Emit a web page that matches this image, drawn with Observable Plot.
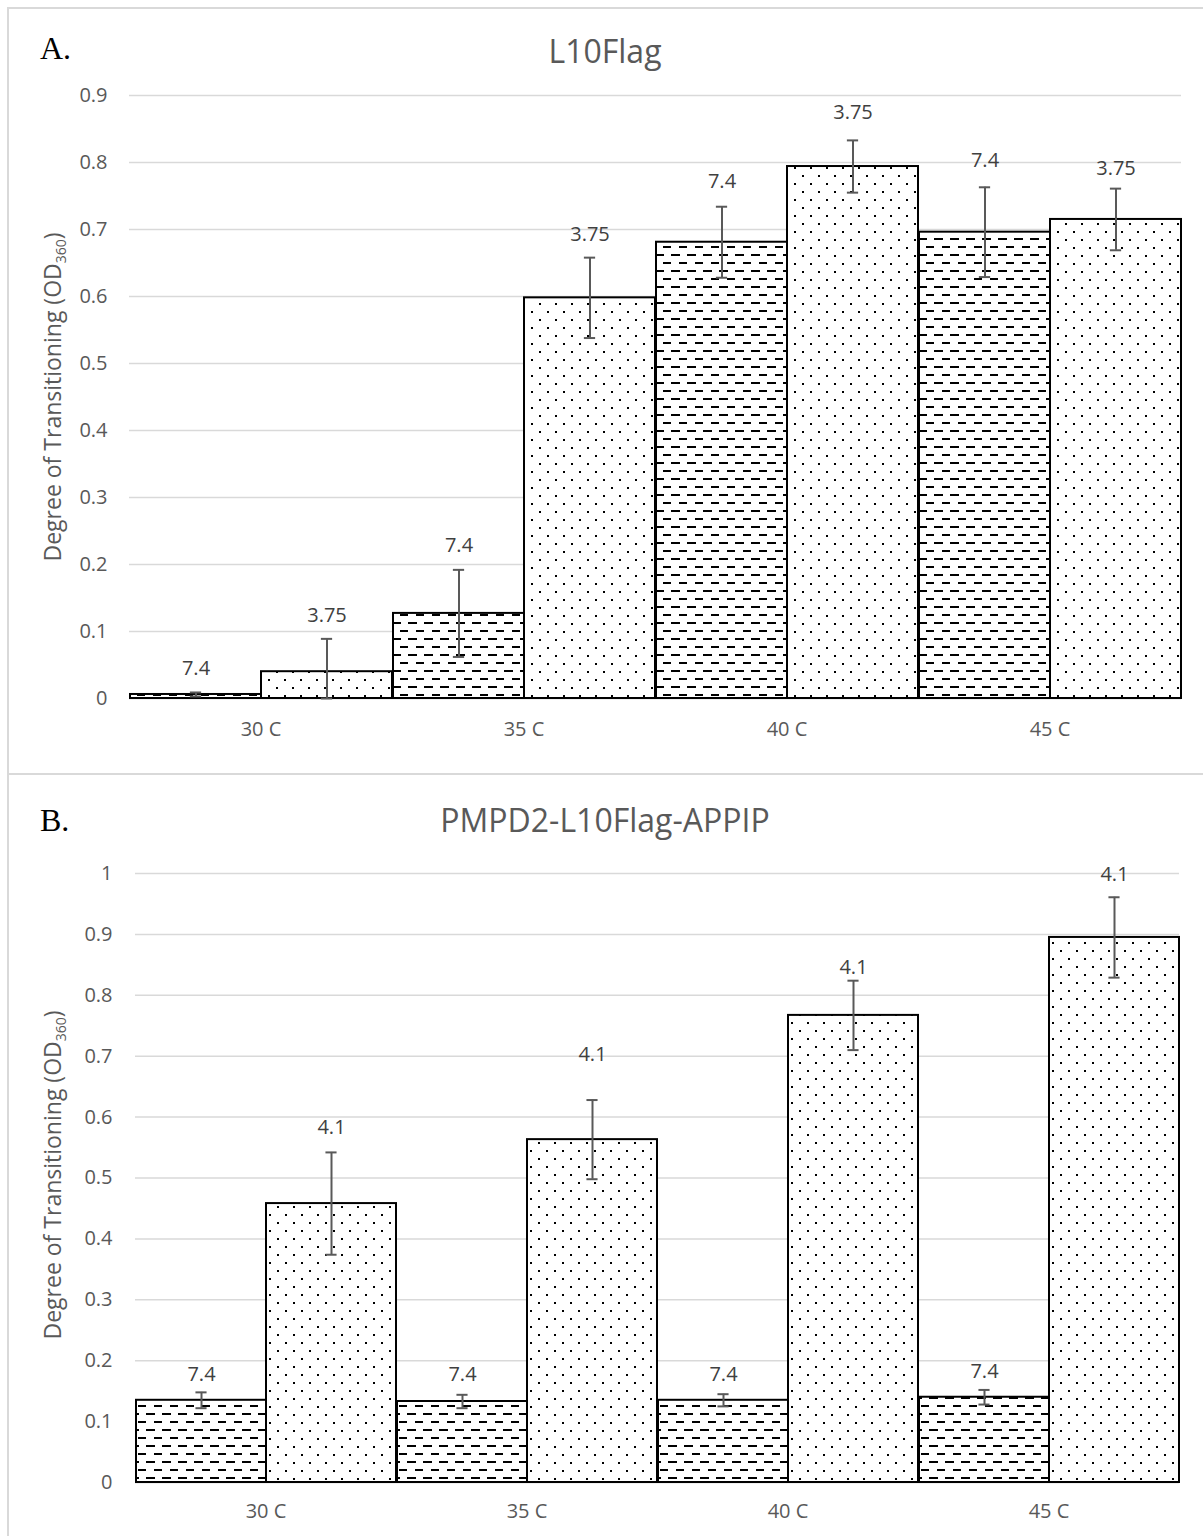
<!DOCTYPE html>
<html><head><meta charset="utf-8">
<script src="https://cdn.jsdelivr.net/npm/d3@7"></script>
<script src="https://cdn.jsdelivr.net/npm/@observablehq/plot@0.6"></script>
<style>
body{margin:0;background:#fff;}
#page{position:relative;width:1203px;height:1536px;overflow:hidden;font-family:"Open Sans",sans-serif;background:#fff;}
.frame{position:absolute;border-left:2px solid #d9d9d9;border-top:2px solid #d9d9d9;box-sizing:border-box;}
.title{position:absolute;left:7px;width:1196px;text-align:center;font-size:32px;line-height:32px;color:#595959;white-space:nowrap;}
.letter{position:absolute;left:40px;font-family:"Liberation Serif",serif;font-size:32px;line-height:32px;color:#000;}
.ylab{position:absolute;font-size:23px;line-height:26px;color:#595959;white-space:nowrap;transform:translate(-50%,-50%) rotate(-90deg);}
.ylab sub{font-size:14px;line-height:0;vertical-align:-5px;}
.plot{position:absolute;left:0;}
</style></head>
<body>
<div id="page">
  <svg width="0" height="0" style="position:absolute">
    <defs>
      <pattern id="dashPat" patternUnits="userSpaceOnUse" width="16" height="16">
        <rect width="16" height="16" fill="#fff"/>
        <rect x="0" y="2" width="9" height="2" fill="#000"/>
        <rect x="8" y="10" width="9" height="2" fill="#000"/>
      </pattern>
      <pattern id="dotPat" patternUnits="userSpaceOnUse" width="16" height="16">
        <rect width="16" height="16" fill="#fff"/>
        <rect x="3" y="3" width="2" height="2" fill="#000"/>
        <rect x="11" y="11" width="2" height="2" fill="#000"/>
      </pattern>
    </defs>
  </svg>
  <div class="frame" style="left:7px;top:7px;width:1200px;height:768px;"></div>
  <div class="frame" style="left:7px;top:773px;width:1200px;height:770px;"></div>
  <div class="letter" style="top:32px;">A.</div>
  <div class="title" style="top:35px;">L10Flag</div>
  <div class="letter" style="top:804px;">B.</div>
  <div class="title" style="top:804px;">PMPD2-L10Flag-APPIP</div>
  <div class="ylab" style="left:52px;top:397px;">Degree of Transitioning (OD<sub>360</sub>)</div>
  <div class="ylab" style="left:52px;top:1175px;">Degree of Transitioning (OD<sub>360</sub>)</div>
  <div id="plotA" class="plot" style="top:60px;"></div>
  <div id="plotB" class="plot" style="top:835px;"></div>
</div>
<script>
// ---- data ----
const categories = ["30 C", "35 C", "40 C", "45 C"];

// Panel A: L10Flag
const seriesA = ["7.4", "3.75"];
const valuesA_74  = [0.006, 0.127, 0.681, 0.696];
const errorsA_74  = [0.003, 0.065, 0.053, 0.067];
const labelAtA_74 = [0.045, 0.228, 0.772, 0.803];
const valuesA_375  = [0.040, 0.598, 0.794, 0.715];
const errorsA_375  = [0.049, 0.060, 0.039, 0.046];
const labelAtA_375 = [0.124, 0.693, 0.875, 0.791];
const ticksA = [0, 0.1, 0.2, 0.3, 0.4, 0.5, 0.6, 0.7, 0.8, 0.9];

// Panel B: PMPD2-L10Flag-APPIP
const seriesB = ["7.4", "4.1"];
const valuesB_74  = [0.135, 0.133, 0.135, 0.140];
const errorsB_74  = [0.013, 0.011, 0.010, 0.012];
const labelAtB_74 = [0.177, 0.177, 0.177, 0.182];
const valuesB_41  = [0.458, 0.563, 0.767, 0.895];
const errorsB_41  = [0.084, 0.065, 0.057, 0.066];
const labelAtB_41 = [0.583, 0.703, 0.846, 0.998];
const ticksB = [0, 0.1, 0.2, 0.3, 0.4, 0.5, 0.6, 0.7, 0.8, 0.9, 1];

function buildRows(names, v1, e1, l1, v2, e2, l2) {
  const rows = [];
  categories.forEach((c, i) => {
    rows.push({cat: c, s: "a", series: names[0], value: v1[i], lo: Math.max(0, v1[i] - e1[i]), hi: v1[i] + e1[i], lab: l1[i]});
    rows.push({cat: c, s: "b", series: names[1], value: v2[i], lo: Math.max(0, v2[i] - e2[i]), hi: v2[i] + e2[i], lab: l2[i]});
  });
  return rows;
}

function panel(rows, names, ticks, yMax, m) {
  const bw = (1203 - m.left - m.right) / 8;
  const capInset = (bw - 12) / 2;
  return Plot.plot({
    width: 1203, height: m.height,
    marginLeft: m.left, marginRight: m.right, marginTop: m.top, marginBottom: m.bottom,
    style: {fontFamily: "Open Sans", fontSize: "20px", color: "#595959", background: "transparent", overflow: "visible"},
    fx: {domain: categories, padding: 0, label: null},
    x: {type: "band", domain: ["a", "b"], padding: 0, axis: null},
    y: {domain: [0, yMax], axis: null},
    color: {type: "ordinal", domain: names, range: ["url(#dashPat)", "url(#dotPat)"]},
    marks: [
      Plot.gridY(ticks, {stroke: "#d9d9d9", strokeOpacity: 1, strokeWidth: 1.5}),
      Plot.ruleY([0], {stroke: "#d9d9d9", strokeWidth: 1.5}),
      Plot.axisY(ticks, {tickSize: 0, tickPadding: m.tickPad, fontSize: 20, fill: "#595959", label: null,
        tickFormat: d => String(+d.toFixed(1))}),
      Plot.barY(rows, {fx: "cat", x: "s", y: "value", fill: "series", stroke: "#000", strokeWidth: 2}),
      Plot.ruleX(rows, {fx: "cat", x: "s", y1: "lo", y2: "hi", stroke: "#595959", strokeWidth: 2}),
      Plot.tickY(rows, {fx: "cat", x: "s", y: "lo", stroke: "#595959", strokeWidth: 2, insetLeft: capInset, insetRight: capInset}),
      Plot.tickY(rows, {fx: "cat", x: "s", y: "hi", stroke: "#595959", strokeWidth: 2, insetLeft: capInset, insetRight: capInset}),
      Plot.text(rows, {fx: "cat", x: "s", y: "lab", text: "series", fill: "#404040", fontSize: 20}),
      Plot.axisFx({anchor: "bottom", tickSize: 0, tickPadding: m.xPad, fontSize: 20, fill: "#595959", label: null})
    ]
  });
}

const rowsA = buildRows(seriesA, valuesA_74, errorsA_74, labelAtA_74, valuesA_375, errorsA_375, labelAtA_375);
const rowsB = buildRows(seriesB, valuesB_74, errorsB_74, labelAtB_74, valuesB_41, errorsB_41, labelAtB_41);

document.getElementById("plotA").append(
  panel(rowsA, seriesA, ticksA, 0.9, {height: 690, left: 128, right: 21, top: 35, bottom: 52, tickPad: 22, xPad: 23})
);
document.getElementById("plotB").append(
  panel(rowsB, seriesB, ticksB, 1.0, {height: 697, left: 133, right: 23, top: 38, bottom: 50, tickPad: 23, xPad: 21})
);
</script>
</body></html>
